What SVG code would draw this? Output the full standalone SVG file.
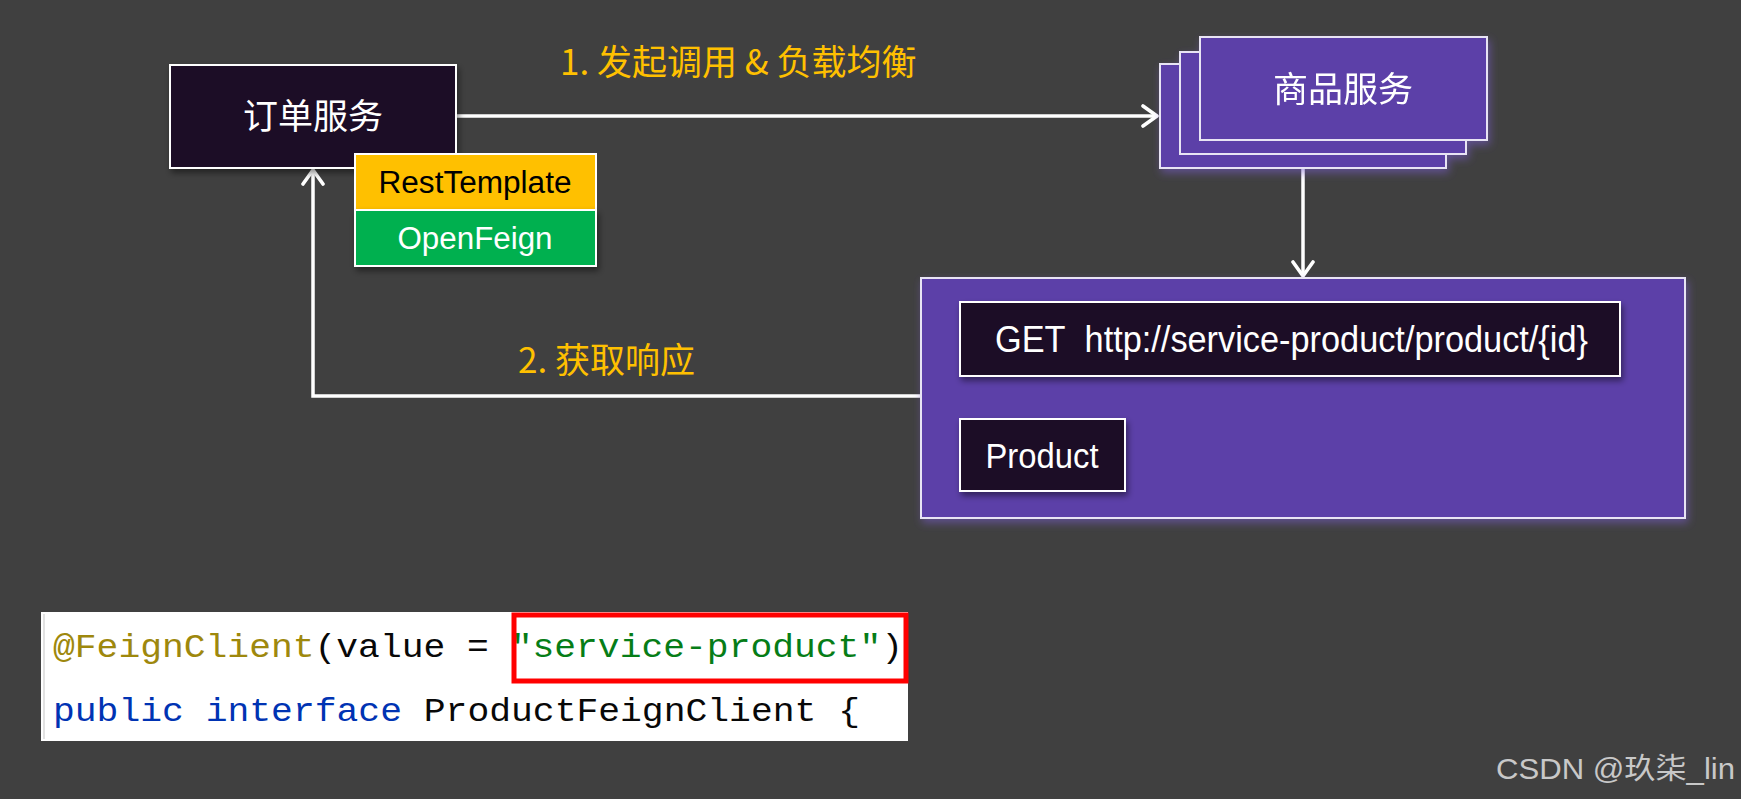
<svg xmlns="http://www.w3.org/2000/svg" width="1741" height="799" viewBox="0 0 1741 799">
<style>
.cjk{font-family:"Noto Sans CJK SC","Noto Sans",sans-serif;}
.lat{font-family:"Liberation Sans","Noto Sans CJK SC",sans-serif;}
.mono{font-family:"Liberation Mono","DejaVu Sans Mono",monospace;}
.wt{fill:#ffffff;}
.lbl{fill:#ffc000;font-size:35px;}
.dark{fill:#1e1128;stroke:#ffffff;stroke-width:2;}
.purple{fill:#5b41a8;stroke:#e8e4f4;stroke-width:2;}
.conn{fill:none;stroke:#ffffff;stroke-width:3.5;}
</style>
<defs>
<marker id="arr" viewBox="0 0 20 24" refX="17" refY="12" markerWidth="20" markerHeight="24" markerUnits="userSpaceOnUse" orient="auto">
<path d="M3,2 L17,12 L3,22" fill="none" stroke="#ffffff" stroke-width="3.6" stroke-linecap="round" stroke-linejoin="round"/>
</marker>
<filter id="glow" x="-10%" y="-10%" width="120%" height="130%">
<feDropShadow dx="2" dy="4" stdDeviation="4" flood-color="#7a5cd0" flood-opacity="0.55"/>
</filter>
<filter id="sh" x="-10%" y="-10%" width="120%" height="140%">
<feDropShadow dx="2" dy="4" stdDeviation="3" flood-color="#000000" flood-opacity="0.45"/>
</filter>
</defs>
<rect x="0" y="0" width="1741" height="799" fill="#404040"/>

<g id="connectors">
<path class="conn" d="M456,116 L1157,116" marker-end="url(#arr)"/>
<path class="conn" d="M1303,168 L1303,276" marker-end="url(#arr)"/>
<path class="conn" d="M921,396 L313,396 L313,170" marker-end="url(#arr)"/>
</g>

<g id="label-call">
<text class="cjk lbl" x="560" y="75">1. 发起调用 &amp; 负载均衡</text>
</g>
<g id="label-resp">
<text class="cjk lbl" x="518" y="373">2. 获取响应</text>
</g>

<g id="order-service">
<rect class="dark" x="170" y="65" width="286" height="103" filter="url(#sh)"/>
<text class="cjk wt" x="313" y="129" font-size="35" text-anchor="middle">订单服务</text>
</g>

<g id="rest-template">
<rect x="355" y="154" width="241" height="56" fill="#ffc000" stroke="#ffffff" stroke-width="2"/>
<text class="lat" x="475" y="193" font-size="31" fill="#000000" text-anchor="middle" textLength="193" lengthAdjust="spacingAndGlyphs">RestTemplate</text>
</g>
<g id="open-feign">
<rect x="355" y="210" width="241" height="56" fill="#00b050" stroke="#ffffff" stroke-width="2" filter="url(#sh)"/>
<text class="lat" x="475" y="249" font-size="31" fill="#ffffff" text-anchor="middle" textLength="155" lengthAdjust="spacingAndGlyphs">OpenFeign</text>
</g>

<g id="product-service" filter="url(#glow)">
<rect class="purple" x="1160" y="64" width="286" height="104"/>
<rect class="purple" x="1180" y="52" width="286" height="102"/>
<rect class="purple" x="1200" y="37" width="287" height="103"/>
<text class="cjk wt" x="1343" y="102" font-size="35" text-anchor="middle">商品服务</text>
</g>

<g id="product-endpoint">
<rect class="purple" x="921" y="278" width="764" height="240" filter="url(#glow)"/>
</g>
<g id="get-request">
<rect class="dark" x="960" y="302" width="660" height="74" filter="url(#sh)"/>
<text class="lat wt" x="995" y="352" font-size="36" textLength="593" lengthAdjust="spacingAndGlyphs">GET&#160; http://service-product/product/{id}</text>
</g>
<g id="product">
<rect class="dark" x="960" y="419" width="165" height="72" filter="url(#sh)"/>
<text class="lat wt" x="1042" y="468" font-size="35" text-anchor="middle" textLength="113" lengthAdjust="spacingAndGlyphs">Product</text>
</g>

<g id="code-snippet">
<rect x="41" y="612" width="867" height="129" fill="#ffffff"/>
<line x1="44" y1="614" x2="44" y2="739" stroke="#d8d8d8" stroke-width="1.5"/>
<text class="mono" x="53" y="657" font-size="34" textLength="850" lengthAdjust="spacingAndGlyphs"><tspan fill="#9e880d">@FeignClient</tspan><tspan fill="#080808">(value = </tspan><tspan fill="#067d17">"service-product"</tspan><tspan fill="#080808">)</tspan></text>
<text class="mono" x="53" y="721" font-size="34" textLength="807" lengthAdjust="spacingAndGlyphs"><tspan fill="#0033b3">public interface </tspan><tspan fill="#080808">ProductFeignClient {</tspan></text>
<rect x="514" y="615" width="392" height="66" fill="none" stroke="#ff0000" stroke-width="5"/>
</g>

<g id="watermark">
<text x="1496" y="779" font-size="29" fill="#c8c8c8" font-family="Liberation Sans,Noto Sans CJK SC,sans-serif" textLength="239" lengthAdjust="spacingAndGlyphs">CSDN @玖柒_lin</text>
</g>
</svg>
